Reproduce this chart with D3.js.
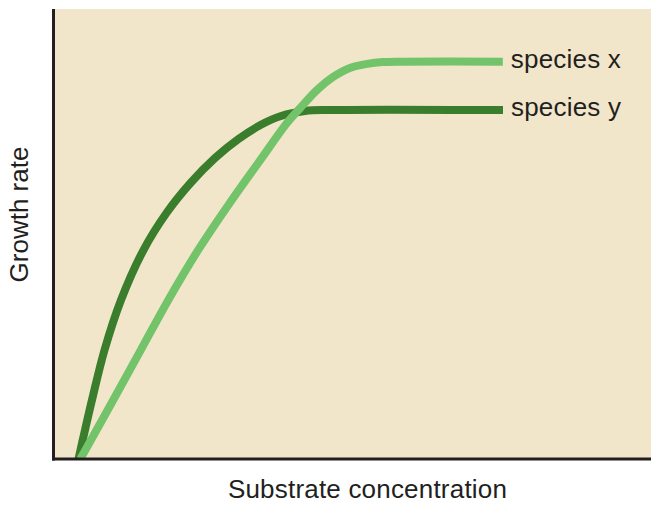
<!DOCTYPE html>
<html>
<head>
<meta charset="utf-8">
<script src="https://cdn.jsdelivr.net/npm/d3@7/dist/d3.min.js"></script>
<style>
  html, body { margin: 0; padding: 0; background: #ffffff; }
  svg { display: block; }
  text { font-family: "Liberation Sans", Arial, Helvetica, sans-serif; fill: #231f20; }
</style>
</head>
<body>
<svg id="chart" width="651" height="506"></svg>
<script>
// Data (arbitrary units: substrate concentration 0-100, growth rate 0-100)
const seriesNames = ["species x", "species y"];
const speciesX_conc   = [4.5, 10.0, 14.6, 19.2, 24.2, 29.5, 34.6, 39.1, 41.3, 44.1, 46.8, 49.6, 52.5, 55.1, 58.0, 75.2];
const speciesX_growth = [0, 13.1, 24.2, 35.3, 46.4, 56.9, 66.4, 74.7, 78.0, 82.0, 84.9, 86.9, 87.8, 88.2, 88.3, 88.3];
const speciesY_conc   = [4.18, 5.27, 6.44, 8.54, 11.30, 15.06, 18.91, 22.93, 27.03, 30.96, 34.64, 38.08, 42.09, 46.28, 75.23];
const speciesY_growth = [0, 6.44, 13.11, 24.22, 35.33, 46.44, 54.67, 61.33, 66.89, 71.11, 74.22, 76.22, 77.33, 77.56, 77.56];
const xTitle = "Substrate concentration";
const yTitle = "Growth rate";

const colors = { "species x": "#72c36a", "species y": "#3a7d2c" };

const svg = d3.select("#chart");
const mLeft = 53.5, mRight = 651, mTop = 9, mBottom = 459;

const x = d3.scaleLinear().domain([0, 100]).range([mLeft, mRight]);
const y = d3.scaleLinear().domain([0, 100]).range([mBottom, mTop]);

// plot background
svg.append("rect")
  .attr("x", mLeft).attr("y", mTop)
  .attr("width", mRight - mLeft).attr("height", mBottom - mTop)
  .attr("fill", "#f1e6ca");

const series = [
  { name: seriesNames[0], xs: speciesX_conc, ys: speciesX_growth },
  { name: seriesNames[1], xs: speciesY_conc, ys: speciesY_growth }
];

const line = d3.line()
  .x(d => x(d[0]))
  .y(d => y(d[1]))
  .curve(d3.curveCatmullRom.alpha(0.5));

svg.append("clipPath").attr("id", "clip")
  .append("rect").attr("x", mLeft).attr("y", mTop)
  .attr("width", mRight - mLeft).attr("height", mBottom - mTop);

const g = svg.append("g").attr("clip-path", "url(#clip)");
// species y drawn first, species x on top
[series[1], series[0]].forEach(s => {
  const pts = s.xs.map((v, i) => [v, s.ys[i]]);
  g.append("path")
    .datum(pts)
    .attr("d", line)
    .attr("fill", "none")
    .attr("stroke", colors[s.name])
    .attr("stroke-width", 8)
    .attr("stroke-linecap", "butt")
    .attr("stroke-linejoin", "round");
});

// labels at line ends
series.forEach(s => {
  const n = s.xs.length - 1;
  svg.append("text")
    .attr("x", x(s.xs[n]) + 8)
    .attr("y", y(s.ys[n]) + 6)
    .attr("font-size", 26)
    .attr("letter-spacing", 0.2)
    .text(s.name);
});

// axes (no ticks)
const xAxis = d3.axisBottom(x).ticks(0).tickSize(0).tickSizeOuter(0);
const yAxis = d3.axisLeft(y).ticks(0).tickSize(0).tickSizeOuter(0);
const gx = svg.append("g").attr("transform", `translate(0,${mBottom})`).call(xAxis);
const gy = svg.append("g").attr("transform", `translate(${mLeft},0)`).call(yAxis);
[gx, gy].forEach(a => {
  a.select(".domain").attr("stroke", "#231f20").attr("stroke-width", 3);
  a.selectAll(".tick").remove();
});
gy.select(".domain").attr("d", `M0,${mTop}V${mBottom + 1.5}`);
gx.select(".domain").attr("d", `M${mLeft - 1.5},0H${mRight}`);

// axis titles
svg.append("text")
  .attr("x", 367.5).attr("y", 498)
  .attr("text-anchor", "middle")
  .attr("font-size", 26)
  .attr("letter-spacing", 0.2)
  .text(xTitle);

svg.append("text")
  .attr("transform", "translate(28,214.5) rotate(-90)")
  .attr("text-anchor", "middle")
  .attr("font-size", 26)
  .text(yTitle);
</script>
</body>
</html>
